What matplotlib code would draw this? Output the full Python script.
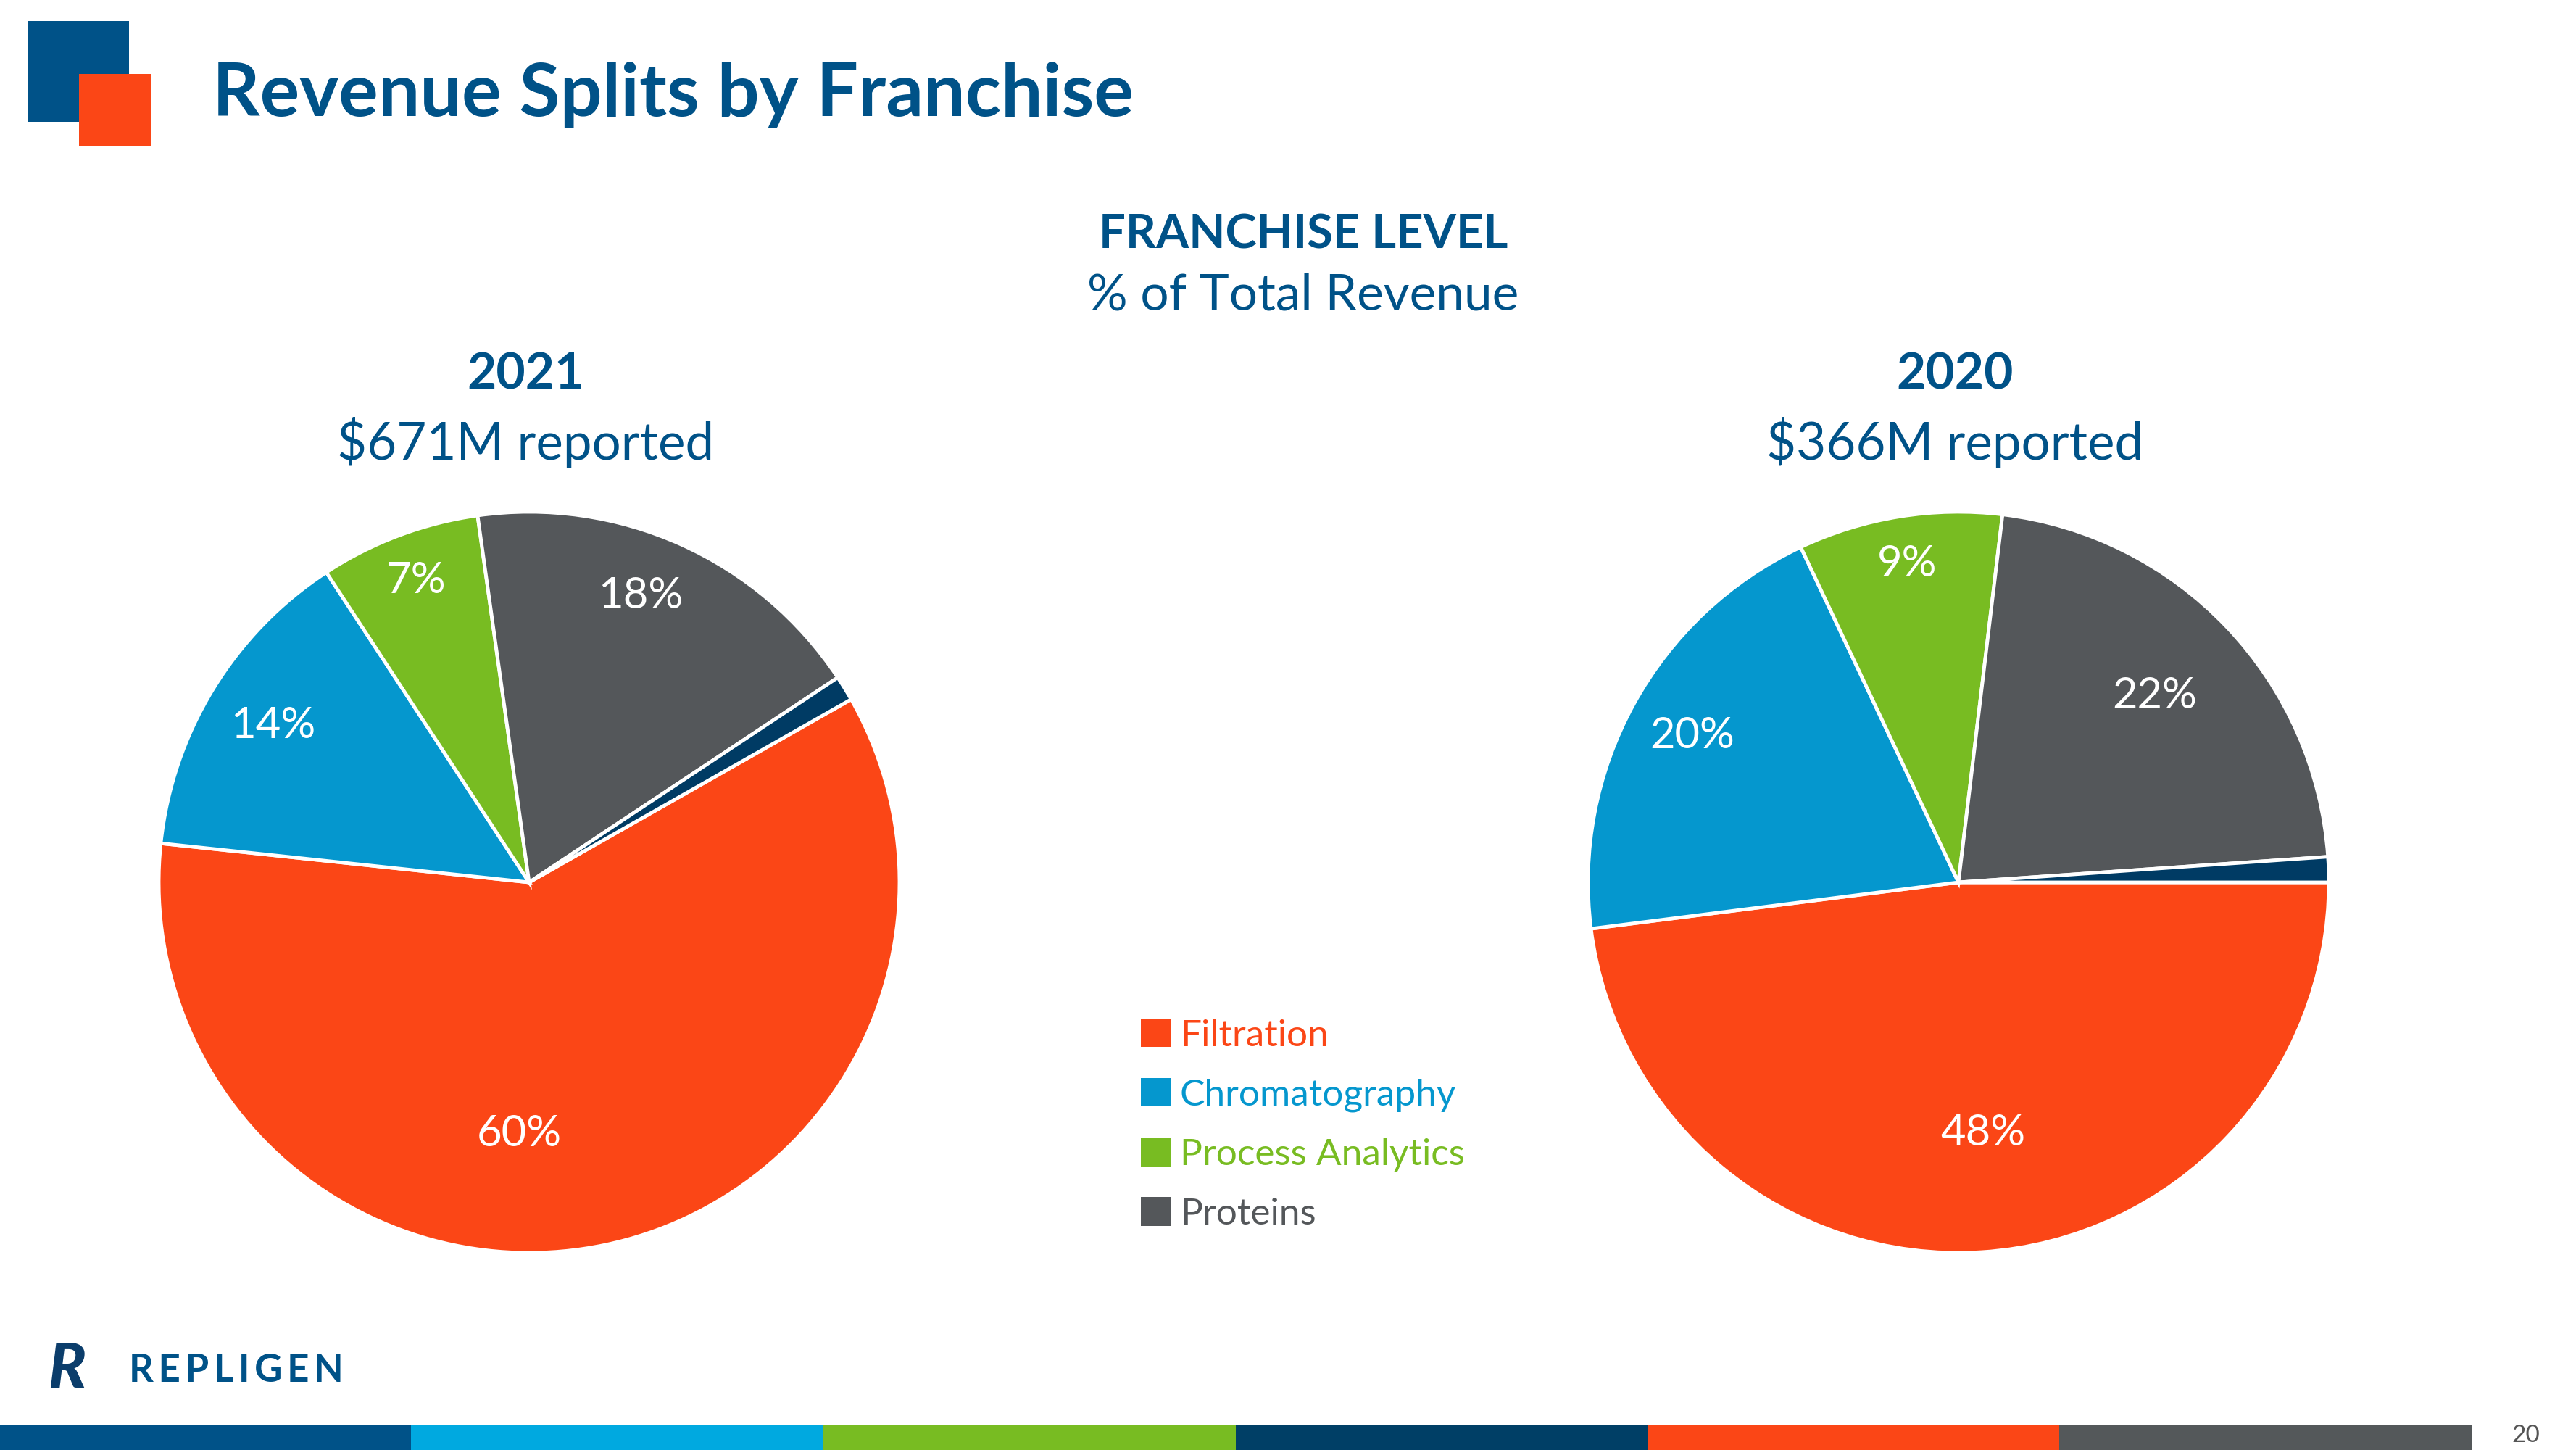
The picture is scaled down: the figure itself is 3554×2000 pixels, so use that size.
import matplotlib
matplotlib.use("Agg")
import numpy as np
import matplotlib.pyplot as plt
from matplotlib.patches import Rectangle

plt.rcParams["font.family"] = ["Lato", "DejaVu Sans"]

# data
franchises = ["Filtration", "Chromatography", "Process Analytics", "Proteins", "Other"]
share_2021 = [59.9, 14.1, 7.0, 17.9, 1.1]
share_2020 = [48.0, 20.0, 8.9, 22.0, 1.1]
years = ["2021", "2020"]
revenue_text = ["$671M reported", "$366M reported"]

colors = ["#FB4616", "#0597CE", "#78BC22", "#54575A", "#003B64"]
title_blue = "#005288"
W, H = 3555, 2000

fig = plt.figure(figsize=(W / 100, H / 100), dpi=100)

# background layer for slide decoration, in pixel coords
bg = fig.add_axes([0, 0, 1, 1], zorder=0)
bg.set_xlim(0, W)
bg.set_ylim(H, 0)
bg.axis("off")

bg.add_patch(Rectangle((39, 29), 139, 139, color=title_blue, lw=0))
bg.add_patch(Rectangle((109, 102), 100, 100, color="#FB4616", lw=0))
bg.text(293, 160, "Revenue Splits by Franchise", fontsize=73.5, fontweight="bold",
        color=title_blue, va="baseline", ha="left")

bg.text(1798, 324, "FRANCHISE LEVEL", fontsize=47, fontweight="bold",
        color=title_blue, ha="center", va="center")
bg.text(1798, 408, "% of Total Revenue", fontsize=50, color=title_blue,
        ha="center", va="center")

# bottom colour strip
strip = ["#005288", "#00A9E0", "#78BC22", "#003F66", "#FB4616", "#54585A"]
edges = [0, 567, 1136, 1705, 2274, 2841, 3410]
for i, c in enumerate(strip):
    bg.add_patch(Rectangle((edges[i], 1966), edges[i + 1] - edges[i], 34, color=c, lw=0))
bg.text(3485, 1980, "20", fontsize=24, color="#555555", ha="center", va="center")

# logo
bg.text(92, 1890, "R", fontsize=62, fontweight="black", fontstyle="italic",
        color="#0B3D6B", ha="center", va="center")
bg.text(178, 1890, "\u2009".join("REPLIGEN"), fontsize=38, fontweight="bold",
        color=title_blue, ha="left", va="center")

# pies
centers = [(730, 1217), (2702, 1217)]
radius = 511
starts = [29.6, 0.0]
label_r = [[0.68, 0.81, 0.87, 0.83], [0.68, 0.82, 0.87, 0.73]]
label_shift = [[-14, 0, 0, 3], [2, 0, 0, 0]]

wedges_all = []
for k, shares in enumerate([share_2021, share_2020]):
    cx, cy = centers[k]
    ax = fig.add_axes([(cx - radius) / W, 1 - (cy + radius) / H,
                       2 * radius / W, 2 * radius / H], zorder=1)
    wedges, _ = ax.pie(shares, colors=colors, startangle=starts[k], counterclock=False,
                       radius=1.0, wedgeprops=dict(edgecolor="white", linewidth=3.5))
    ax.set_xlim(-1, 1)
    ax.set_ylim(-1, 1)
    ax.set_aspect("equal")
    ax.axis("off")
    for i, w in enumerate(wedges[:4]):
        ang = np.deg2rad((w.theta1 + w.theta2) / 2 + label_shift[k][i])
        r = label_r[k][i]
        ax.text(r * np.cos(ang), r * np.sin(ang), f"{shares[i]:.0f}%",
                fontsize=43, color="white", ha="center", va="center")
    wedges_all.append(wedges)

    bg.text(cx - 5, 517, years[k], fontsize=50, fontweight="bold", color=title_blue,
            ha="center", va="center")
    bg.text(cx - 5, 610, revenue_text[k], fontsize=51, color=title_blue,
            ha="center", va="center")

leg = fig.legend(wedges_all[0][:4], franchises[:4], loc="upper left",
                 bbox_to_anchor=(1574 / W, 1 - 1405 / H), frameon=False,
                 fontsize=37, handlelength=0.8, handleheight=0.8,
                 handletextpad=0.25, labelspacing=0.69, borderpad=0, borderaxespad=0)
for txt, c in zip(leg.get_texts(), colors):
    txt.set_color(c)
for h in leg.legend_handles:
    h.set_edgecolor("none")

fig.savefig("out.png", dpi=100)
